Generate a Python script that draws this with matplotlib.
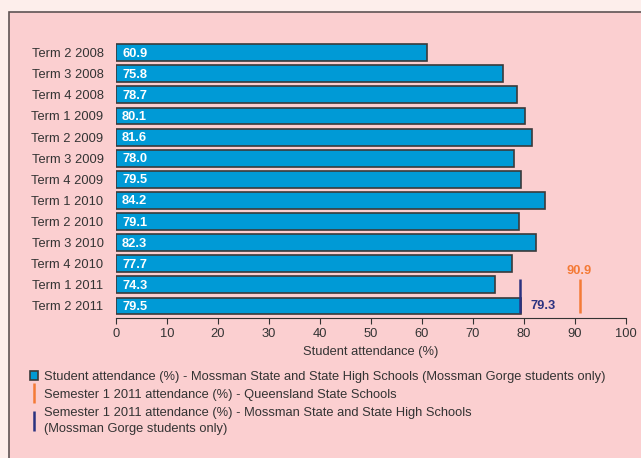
import matplotlib
matplotlib.use('Agg')
import matplotlib.pyplot as plt
from matplotlib.patches import Rectangle, Patch
from matplotlib.lines import Line2D

plt.rcParams['font.family'] = ['Liberation Sans', 'DejaVu Sans']

terms = ['Term 2 2008', 'Term 3 2008', 'Term 4 2008', 'Term 1 2009', 'Term 2 2009',
         'Term 3 2009', 'Term 4 2009', 'Term 1 2010', 'Term 2 2010', 'Term 3 2010',
         'Term 4 2010', 'Term 1 2011', 'Term 2 2011']
attendance = [60.9, 75.8, 78.7, 80.1, 81.6, 78.0, 79.5, 84.2, 79.1, 82.3, 77.7, 74.3, 79.5]
qld_sem1 = 90.9
mossman_sem1 = 79.3

bar_col = '#009ad6'
orange = '#f47a36'
navy = '#2b3280'
txt = '#333333'
fs = 9.3

fig = plt.figure(figsize=(6.41, 4.58), dpi=100)
fig.patch.set_facecolor('#fdeeeb')
fig.patches.append(Rectangle((9/641, -0.05), 1.0, 1 - 12/458 + 0.05, transform=fig.transFigure,
                             facecolor='#fbcfd0', edgecolor='#5e5454', linewidth=1.2, zorder=-10))

ax = fig.add_axes([116/641, 1 - 318/458, 510/641, 278/458])
ax.set_facecolor('none')
y = list(range(len(terms)))
ax.barh(y, attendance, height=0.8, color=bar_col, edgecolor='#3a3a3a', linewidth=1.2, zorder=2)
for i, v in enumerate(attendance):
    ax.text(1.2, i + 0.05, f'{v:.1f}', color='white', fontweight='bold', fontsize=9.3,
            va='center', ha='left', zorder=3)

ax.vlines(qld_sem1, 10.72, 12.33, color=orange, linewidth=1.8, zorder=3)
ax.vlines(mossman_sem1, 10.72, 12.33, color=navy, linewidth=1.8, zorder=3)
ax.text(qld_sem1, 10.62, f'{qld_sem1}', color=orange, fontweight='bold', fontsize=9.3,
        ha='center', va='bottom')
ax.text(mossman_sem1 + 2, 12.0, f'{mossman_sem1}', color=navy, fontweight='bold', fontsize=9.3,
        ha='left', va='center')

ax.set_xlim(0, 100)
ax.set_ylim(12.57, -0.6)
ax.set_xticks(range(0, 101, 10))
ax.set_yticks(y)
ax.set_yticklabels(terms)
for s in ['top', 'right', 'left']:
    ax.spines[s].set_visible(False)
ax.spines['bottom'].set_color('#333333')
ax.tick_params(axis='y', length=0, pad=9, labelsize=fs, labelcolor=txt)
ax.tick_params(axis='x', length=4, direction='out', color='#333333', labelsize=fs, labelcolor=txt)
ax.set_xlabel('Student attendance (%)', fontsize=fs, color=txt, labelpad=4)

handles = [
    Patch(facecolor=bar_col, edgecolor='#3a3a3a', linewidth=1.2),
    Line2D([0], [0], color=orange, marker='|', linestyle='none', markersize=15, markeredgewidth=1.8),
    Line2D([0], [0], color=navy, marker='|', linestyle='none', markersize=15, markeredgewidth=1.8),
]
labels = [
    'Student attendance (%) - Mossman State and State High Schools (Mossman Gorge students only)',
    'Semester 1 2011 attendance (%) - Queensland State Schools',
    'Semester 1 2011 attendance (%) - Mossman State and State High Schools\n(Mossman Gorge students only)',
]
leg = fig.legend(handles, labels, loc='upper left', bbox_to_anchor=(30/641, 1 - 371/458),
                 frameon=False, fontsize=fs, handlelength=0.6, handleheight=0.6,
                 handletextpad=0.5, labelspacing=0.45, borderaxespad=0, borderpad=0)
for t in leg.get_texts():
    t.set_color(txt)
    t.set_linespacing(1.45)

fig.savefig('out.png', dpi=100, facecolor=fig.get_facecolor())
